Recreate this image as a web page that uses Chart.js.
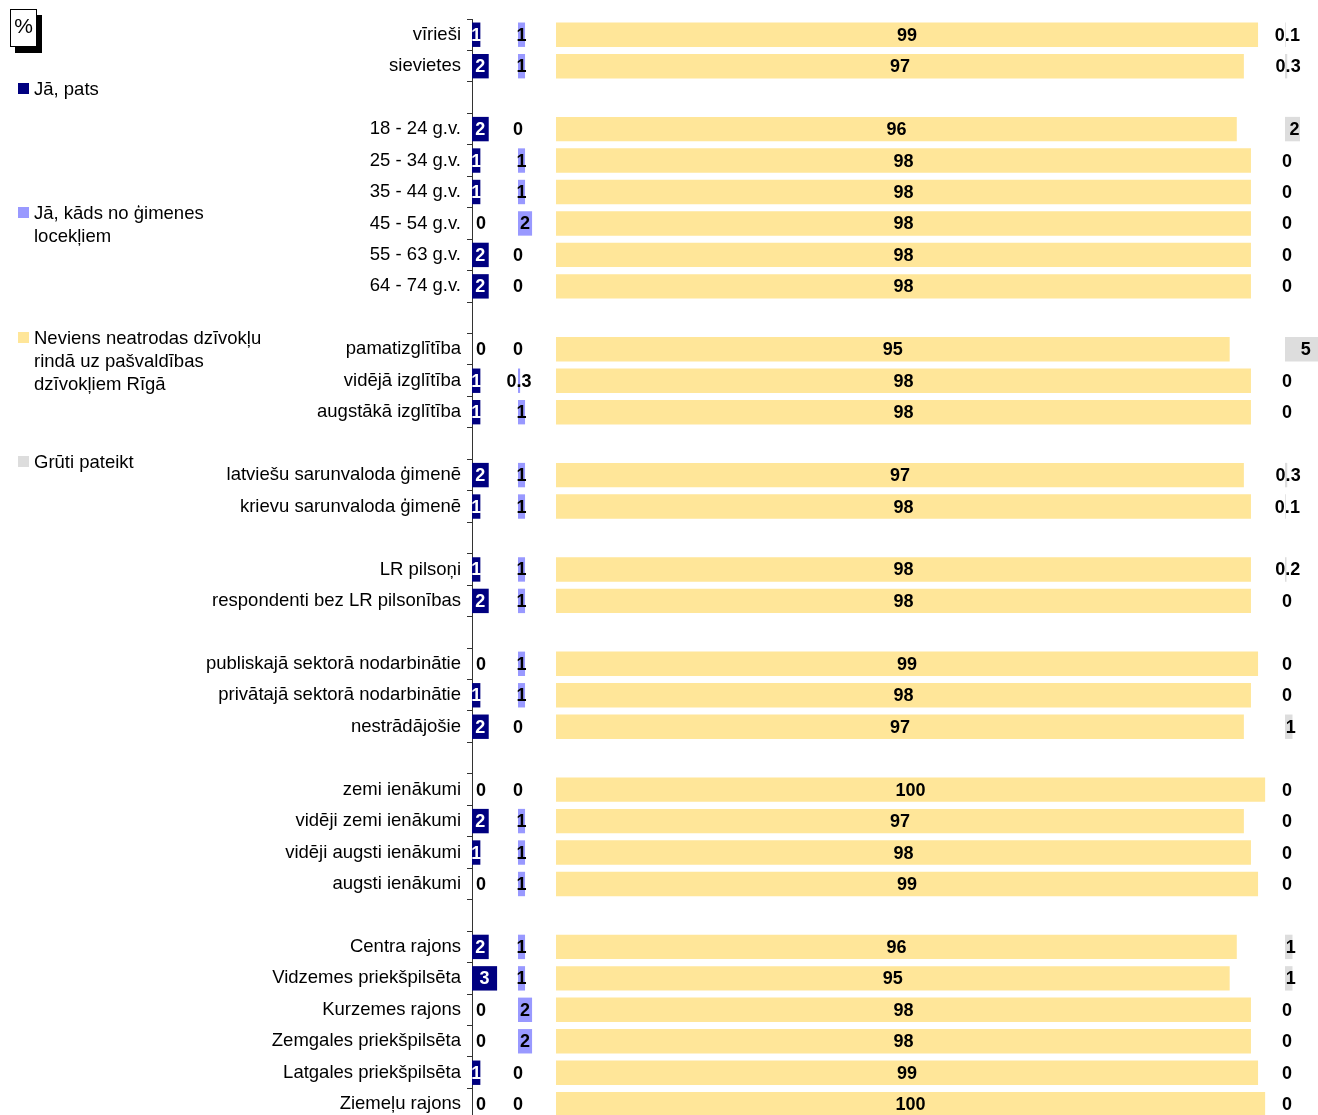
<!DOCTYPE html>
<html>
<head>
<meta charset="utf-8">
<script src="https://cdn.jsdelivr.net/npm/chart.js@4.4.1/dist/chart.umd.min.js"></script>
<style>
  body { margin: 0; background: #fff; overflow: hidden; font-family: "Liberation Sans", Arial, sans-serif; }
  #wrap { position: relative; width: 1318px; height: 1115px; overflow: hidden; }
  #chart { position: absolute; left: 0; top: 0; }
  .pct { position: absolute; left: 10px; top: 9px; width: 25px; height: 36px; border: 1px solid #000; background: #fff;
         box-shadow: 5px 6px 0 #000; font-size: 21px; text-align: center; line-height: 32px; }
  .leg { position: absolute; left: 18px; font-size: 18.5px; line-height: 23px; color: #000; }
  .leg i { position: absolute; left: 0; top: 6px; width: 11px; height: 11px; }
  .leg span { display: block; margin-left: 16px; white-space: nowrap; }
</style>
</head>
<body>
<div id="wrap">
  <canvas id="chart" width="1318" height="1137"></canvas>
  <div class="pct">%</div>
  <div class="leg" style="top:77px"><i style="background:#000080"></i><span>Jā, pats</span></div>
  <div class="leg" style="top:201px"><i style="background:#9999ff"></i><span>Jā, kāds no ģimenes<br>locekļiem</span></div>
  <div class="leg" style="top:326px"><i style="background:#ffe699"></i><span>Neviens neatrodas dzīvokļu<br>rindā uz pašvaldības<br>dzīvokļiem Rīgā</span></div>
  <div class="leg" style="top:450px"><i style="background:#dddddd"></i><span>Grūti pateikt</span></div>
</div>
<script>
const labels = [
  'vīrieši', 'sievietes', '',
  '18 - 24 g.v.', '25 - 34 g.v.', '35 - 44 g.v.', '45 - 54 g.v.', '55 - 63 g.v.', '64 - 74 g.v.', '',
  'pamatizglītība', 'vidējā izglītība', 'augstākā izglītība', '',
  'latviešu sarunvaloda ģimenē', 'krievu sarunvaloda ģimenē', '',
  'LR pilsoņi', 'respondenti bez LR pilsonības', '',
  'publiskajā sektorā nodarbinātie', 'privātajā sektorā nodarbinātie', 'nestrādājošie', '',
  'zemi ienākumi', 'vidēji zemi ienākumi', 'vidēji augsti ienākumi', 'augsti ienākumi', '',
  'Centra rajons', 'Vidzemes priekšpilsēta', 'Kurzemes rajons', 'Zemgales priekšpilsēta', 'Latgales priekšpilsēta', 'Ziemeļu rajons'
];
const jaPats  = [1, 2, null, 2, 1, 1, 0, 2, 2, null, 0, 1, 1, null, 2, 1, null, 1, 2, null, 0, 1, 2, null, 0, 2, 1, 0, null, 2, 3, 0, 0, 1, 0];
const gimene  = [1, 1, null, 0, 1, 1, 2, 0, 0, null, 0, 0.3, 1, null, 1, 1, null, 1, 1, null, 1, 1, 0, null, 0, 1, 1, 1, null, 1, 1, 2, 2, 0, 0];
const neviens = [99, 97, null, 96, 98, 98, 98, 98, 98, null, 95, 98, 98, null, 97, 98, null, 98, 98, null, 99, 98, 97, null, 100, 97, 98, 99, null, 96, 95, 98, 98, 99, 100];
const gruti   = [0.1, 0.3, null, 2, 0, 0, 0, 0, 0, null, 5, 0, 0, null, 0.3, 0.1, null, 0.2, 0, null, 0, 0, 1, null, 0, 0, 0, 0, null, 1, 1, 0, 0, 0, 0];

const FONT = '"Liberation Sans", Arial, sans-serif';

// value labels in the middle of each bar
const valueLabels = {
  id: 'valueLabels',
  afterDatasetsDraw(chart) {
    const ctx = chart.ctx;
    ctx.save();
    ctx.font = 'bold 18px ' + FONT;
    ctx.textAlign = 'center';
    ctx.textBaseline = 'middle';
    chart.data.datasets.forEach((ds, i) => {
      chart.getDatasetMeta(i).data.forEach((bar, j) => {
        const v = ds.data[j];
        if (v === null) return;
        let x = (bar.x + bar.base) / 2;
        if (i === 0 && v === 0) x += 9;
        if (i === 3) x += 2;
        ctx.fillStyle = (i === 0 && v > 0) ? '#fff' : '#000';
        ctx.fillText(String(v), x, bar.y + 1);
      });
    });
    ctx.restore();
  }
};

const hidden = (weight, max) => ({
  type: 'linear', position: 'bottom', stack: 'cols', stackWeight: weight,
  min: 0, max: max, display: false
});

new Chart(document.getElementById('chart'), {
  type: 'bar',
  data: {
    labels: labels,
    datasets: [
      { label: 'Jā, pats', data: jaPats, backgroundColor: '#000080', xAxisID: 'x1' },
      { label: 'Jā, kāds no ģimenes locekļiem', data: gimene, backgroundColor: '#9999ff', xAxisID: 'x2' },
      { label: 'Neviens neatrodas dzīvokļu rindā uz pašvaldības dzīvokļiem Rīgā', data: neviens, backgroundColor: '#ffe699', xAxisID: 'x3' },
      { label: 'Grūti pateikt', data: gruti, backgroundColor: '#dddddd', xAxisID: 'x4' }
    ]
  },
  options: {
    indexAxis: 'y',
    responsive: false,
    animation: false,
    datasets: { bar: { grouped: false, barPercentage: 0.8, categoryPercentage: 0.97 } },
    layout: { padding: { top: 19, left: 0, right: 0, bottom: 0 } },
    plugins: { legend: { display: false }, tooltip: { enabled: false } },
    scales: {
      y: {
        afterFit(scale) { scale.width = 472; },
        grid: { drawOnChartArea: false, tickLength: 5, color: '#333', offset: true },
        border: { color: '#333', width: 1 },
        ticks: { color: '#000', font: { size: 18.5, family: FONT }, padding: 6, autoSkip: false }
      },
      x1: hidden(46, 5.5),
      x2: hidden(38, 5.4),
      x3: hidden(729, 102.8),
      x4: hidden(33, 4.4)
    }
  },
  plugins: [valueLabels]
});
</script>
</body>
</html>
